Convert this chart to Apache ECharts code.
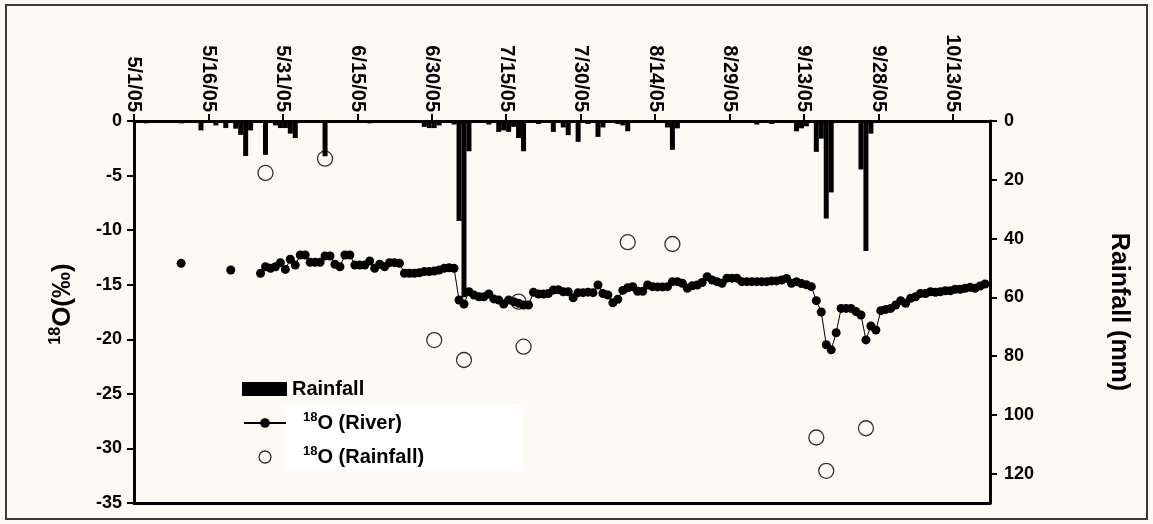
<!DOCTYPE html>
<html>
<head>
<meta charset="utf-8">
<script src="https://cdn.jsdelivr.net/npm/echarts@6/dist/echarts.min.js"></script>
<style>
  html, body { margin: 0; padding: 0; background: #fdf9f3; }
  #chart { width: 1153px; height: 524px; }
</style>
</head>
<body>
<div id="chart"></div>
<script>
// Daily rainfall (mm), 2005
const rainDates = ['5/3', '5/10', '5/14', '5/17', '5/19', '5/21', '5/22', '5/23', '5/24', '5/27',
  '5/29', '5/30', '5/31', '6/1', '6/2', '6/8', '6/17', '6/28', '6/29', '6/30',
  '7/1', '7/4', '7/5', '7/6', '7/7', '7/11', '7/13', '7/14', '7/15', '7/16',
  '7/17', '7/18', '7/21', '7/24', '7/26', '7/27', '7/29', '7/31', '8/2', '8/3',
  '8/6', '8/7', '8/8', '8/16', '8/17', '8/18', '9/3', '9/6', '9/11', '9/12',
  '9/13', '9/15', '9/16', '9/17', '9/18', '9/24', '9/25', '9/26'];
const rainMm = [0.8, 0.8, 3.2, 1.5, 2.4, 2.6, 4.7, 11.9, 3.2, 11.5,
  1.5, 2.4, 2.4, 4.3, 5.8, 12, 0.8, 2, 2.4, 2.4,
  1.5, 1.2, 34, 60, 10.3, 1.2, 3.7, 3.2, 3.7, 2,
  5.8, 10.3, 1, 3.7, 2.2, 4.8, 7.1, 1, 5.4, 2.2,
  1, 1.5, 3.5, 2.2, 9.8, 2.5, 1.2, 1, 3.5, 2.5,
  1.8, 10.5, 6, 33.2, 24.3, 16.5, 44.2, 4.3];

// d18O of rainfall samples (per mil)
const rainIsoDates = ['5/27', '6/8', '6/30', '7/6', '7/17', '7/18', '8/8', '8/17', '9/15', '9/17', '9/25'];
const rainIso = [-4.76, -3.45, -20.07, -21.9, -16.55, -20.68, -11.1, -11.27, -29.0, -32.05, -28.15];

// d18O of river water (per mil), one value per day from riverStart; null = not sampled
const riverStart = '5/10';
const riverValues = [
  -13.04, null, null, null, null, null, null, null, null, null,
  -13.65, null, null, null, null, null,
  -13.95, -13.35, -13.5, -13.35, -12.98, -13.6, -12.67, -13.2, -12.28, -12.28,
  -12.95, -12.95, -12.95, -12.37, -12.37, -13.13, -13.35, -12.28, -12.28, -13.2,
  -13.2, -13.2, -12.83, -13.5, -13.13, -13.35, -12.98, -12.98, -13.04, -13.95,
  -13.95, -13.95, -13.9, -13.8, -13.8, -13.75, -13.65, -13.5, -13.45, -13.5,
  -16.4, -16.77, -15.64, -15.94, -16.1, -16.1, -15.85, -16.3, -16.4, -16.77,
  -16.4, -16.55, -16.7, -16.86, -16.86, -15.7, -15.85, -15.85, -15.8, -15.48,
  -15.45, -15.64, -15.64, -16.2, -15.73, -15.73, -15.68, -15.73, -15.03, -15.8,
  -15.94, -16.65, -16.33, -15.52, -15.28, -15.18, -15.6, -15.6, -15.03, -15.18,
  -15.2, -15.2, -15.18, -14.72, -14.72, -14.87, -15.33, -15.1, -15.03, -14.8,
  -14.26, -14.57, -14.72, -14.87, -14.4, -14.4, -14.4, -14.72, -14.72, -14.72,
  -14.72, -14.72, -14.72, -14.65, -14.65, -14.57, -14.42, -14.87, -14.72, -14.9,
  -15.0, -15.18, -16.46, -17.5, -20.5, -20.97, -19.4, -17.17, -17.17, -17.17,
  -17.46, -17.77, -20.06, -18.78, -19.15, -17.38, -17.26, -17.17, -16.86, -16.46,
  -16.7, -16.25, -16.1, -15.8, -15.8, -15.64, -15.7, -15.64, -15.55, -15.55,
  -15.42, -15.42, -15.33, -15.24, -15.33, -15.12, -14.93
];

// axis settings
const axisStart = Date.UTC(2005, 4, 1);   // 5/1/05 = day 0
const axisDays = 172.5;
const dateStep = 15;
const isoTicks = { min: -35, max: 0, step: 5 };
const rainTicks = { min: 0, max: 130, step: 20 };

const DAY = 86400000;
function dayOf(md) {
  const [m, d] = md.split('/').map(Number);
  return (Date.UTC(2005, m - 1, d) - axisStart) / DAY;
}
function dateLabel(v) {
  const t = new Date(axisStart + Math.round(v) * DAY);
  return (t.getUTCMonth() + 1) + '/' + t.getUTCDate() + '/' + String(t.getUTCFullYear()).slice(2);
}
// daily values are drawn at midday
const mid = 0.5;

const rainData = rainDates.map((d, i) => [dayOf(d) + mid, rainMm[i]]);
const rainIsoData = rainIsoDates.map((d, i) => [dayOf(d) + mid, rainIso[i]]);
const riverDay0 = dayOf(riverStart);
const riverData = riverValues.map((v, i) => [riverDay0 + i + mid, v]);

const FONT = '"Liberation Sans", Arial, sans-serif';
const INK = '#000';
const BG = '#fdf9f3';

const tickFont = { fontSize: 18, fontWeight: 'bold', color: INK, fontFamily: FONT };
const legendRich = {
  gap: { width: 12 },
  sup: { fontSize: 13, fontWeight: 'bold', color: INK, fontFamily: FONT, verticalAlign: 'top' },
  txt: { fontSize: 20, fontWeight: 'bold', color: INK, fontFamily: FONT, lineHeight: 24 }
};

const chart = echarts.init(document.getElementById('chart'), null, { renderer: 'canvas' });

chart.setOption({
  backgroundColor: BG,
  animation: false,
  grid: { left: 134, right: 163, top: 121, bottom: 21, containLabel: false },
  graphic: [
    { type: 'rect', z: 0, shape: { x: 6, y: 5, width: 1141, height: 514 },
      style: { fill: 'none', stroke: '#3a3a3a', lineWidth: 2 } },
    { type: 'rect', z: 1, shape: { x: 285, y: 405, width: 238, height: 66 },
      style: { fill: '#ffffff' } }
  ],
  legend: [
    {
      data: ['Rainfall'],
      left: 242, top: 379, padding: 0,
      icon: 'rect', itemWidth: 45, itemHeight: 14,
      textStyle: { fontSize: 20, fontWeight: 'bold', color: INK, fontFamily: FONT },
      selectedMode: false
    },
    {
      data: [
        { name: 'River 18O' },
        { name: 'Rainfall 18O', icon: 'circle',
          itemStyle: { color: 'rgba(0,0,0,0)', borderColor: INK, borderWidth: 1.3 } }
      ],
      orient: 'vertical',
      left: 243, top: 411, padding: 0,
      itemWidth: 42, itemHeight: 12, itemGap: 12,
      formatter: name => '{gap|}{sup|18}{txt|O (' + name.split(' ')[0] + ')}',
      textStyle: { rich: legendRich },
      selectedMode: false
    }
  ],
  xAxis: [
    {
      type: 'value', position: 'top',
      min: 0, max: axisDays, interval: dateStep,
      axisLine: { onZero: false, lineStyle: { color: INK, width: 3 } },
      axisTick: { length: 7, lineStyle: { color: INK, width: 2 } },
      axisLabel: Object.assign({}, tickFont, {
        fontSize: 20, rotate: 90, margin: 9, padding: [10, 0, 0, 0],
        showMaxLabel: false, formatter: dateLabel
      }),
      splitLine: { show: false }
    },
    {
      type: 'value', position: 'bottom',
      min: 0, max: axisDays,
      axisLine: { onZero: false, lineStyle: { color: INK, width: 3 } },
      axisTick: { show: false }, axisLabel: { show: false }, splitLine: { show: false }
    }
  ],
  yAxis: [
    {
      type: 'value', position: 'left',
      min: isoTicks.min, max: isoTicks.max, interval: isoTicks.step,
      name: '{sp|}{sup|18}{big|O(‰)}',
      nameLocation: 'middle', nameRotate: 90, nameGap: 56,
      nameTextStyle: { rich: {
        sp: { width: 16 },
        sup: { fontSize: 16, fontWeight: 'bold', color: INK, fontFamily: FONT, verticalAlign: 'top' },
        big: { fontSize: 26, fontWeight: 'bold', color: INK, fontFamily: FONT, lineHeight: 30 }
      } },
      axisLine: { show: true, onZero: false, lineStyle: { color: INK, width: 3 } },
      axisTick: { show: true, length: 7, lineStyle: { color: INK, width: 2 } },
      axisLabel: Object.assign({ margin: 12 }, tickFont),
      splitLine: { show: false }
    },
    {
      type: 'value', position: 'right', inverse: true,
      min: rainTicks.min, max: rainTicks.max, interval: rainTicks.step,
      name: 'Rainfall (mm)',
      nameLocation: 'middle', nameRotate: -90, nameGap: 116,
      nameTextStyle: { fontSize: 25, fontWeight: 'bold', color: INK, fontFamily: FONT },
      axisLine: { show: true, onZero: false, lineStyle: { color: INK, width: 3 } },
      axisTick: { show: true, length: 7, lineStyle: { color: INK, width: 2 } },
      axisLabel: Object.assign({ margin: 14, showMaxLabel: false }, tickFont),
      splitLine: { show: false }
    }
  ],
  series: [
    {
      name: 'Rainfall', type: 'bar',
      xAxisIndex: 0, yAxisIndex: 1,
      data: rainData,
      barWidth: 5,
      itemStyle: { color: INK },
      z: 2
    },
    {
      name: 'Rainfall 18O', type: 'scatter',
      xAxisIndex: 0, yAxisIndex: 0,
      data: rainIsoData,
      symbol: 'circle', symbolSize: 15,
      itemStyle: { color: 'rgba(0,0,0,0)', borderColor: INK, borderWidth: 1.3 },
      z: 3
    },
    {
      name: 'River 18O', type: 'line',
      xAxisIndex: 0, yAxisIndex: 0,
      data: riverData,
      connectNulls: false,
      symbol: 'circle', symbolSize: 9, showAllSymbol: true,
      lineStyle: { color: INK, width: 1 },
      itemStyle: { color: INK },
      z: 4
    }
  ]
});
</script>
</body>
</html>
